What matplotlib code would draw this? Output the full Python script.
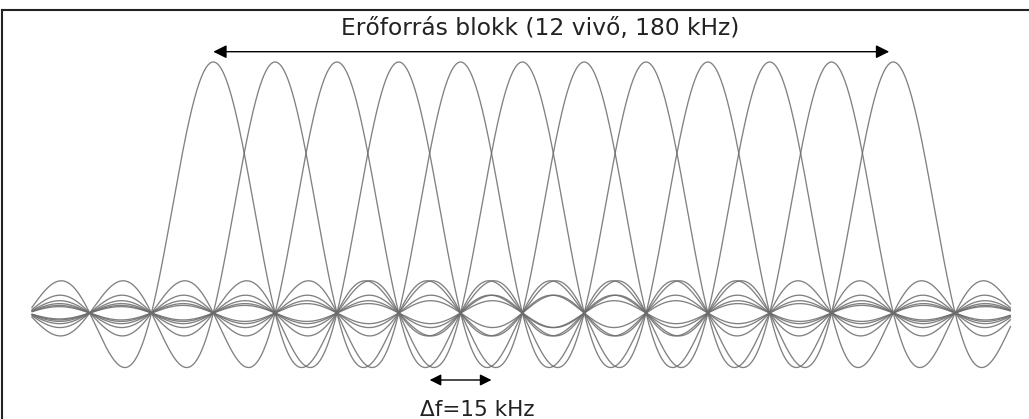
import numpy as np
import matplotlib
matplotlib.use("Agg")
import matplotlib.pyplot as plt
from matplotlib.lines import Line2D

# ---- data ----
carrier_centers_khz = [0, 15, 30, 45, 60, 75, 90, 105, 120, 135, 150, 165]
carrier_amplitudes = [1, 1, 1, 1, 1, 1, 1, 1, 1, 1, 1, 1]
subcarrier_spacing_khz = 15
freq_range_khz = [-44.1, 193.5]
block_label = "Erőforrás blokk (12 vivő, 180 kHz)"
spacing_label = "Δf=15 kHz"

W, H = 1029, 419
fig = plt.figure(figsize=(W / 100, H / 100), dpi=100)
ax = fig.add_axes([0, 0, 1, 1])

# pixel <-> data mapping
px_per_khz = 61.82 / subcarrier_spacing_khz
x0_px = 213.3
base_px, peak_px = 313.0, 62.0
amp_px = base_px - peak_px

def u(px):
    return (px - x0_px) / px_per_khz

def v(py):
    return (base_px - py) / amp_px

ax.set_xlim(u(0), u(W))
ax.set_ylim(v(H), v(0))
ax.axis("off")

f = np.linspace(freq_range_khz[0], freq_range_khz[1], 4000)
for c, a in zip(carrier_centers_khz, carrier_amplitudes):
    ax.plot(f, a * np.sinc((f - c) / subcarrier_spacing_khz),
            color="0.42", lw=0.95, alpha=0.85, solid_capstyle="butt")

# block arrow
ax.annotate("", xy=(carrier_centers_khz[-1] - 1, v(51.7)),
            xytext=(carrier_centers_khz[0], v(51.7)),
            arrowprops=dict(arrowstyle="<|-|>", color="black", lw=1.0,
                            mutation_scale=20, shrinkA=0, shrinkB=0))
ax.text(u(540), v(35), block_label, ha="center", va="baseline",
        fontsize=16.8, family="DejaVu Sans", color="#222222")

# spacing arrow
mid = carrier_centers_khz[4]
ax.annotate("", xy=(mid + subcarrier_spacing_khz / 2, v(380)),
            xytext=(mid - subcarrier_spacing_khz / 2, v(380)),
            arrowprops=dict(arrowstyle="<|-|>", color="black", lw=1.0,
                            mutation_scale=17, shrinkA=0, shrinkB=0))
ax.text(u(477.5), v(416), spacing_label, ha="center", va="baseline",
        fontsize=15.5, family="DejaVu Sans", color="#222222")

# frame (top and left edges visible)
fig.add_artist(Line2D([2 / W, 2 / W], [0, 1 - 10 / H], transform=fig.transFigure,
                      color="#222222", lw=1.5))
fig.add_artist(Line2D([2 / W, 1], [1 - 10 / H, 1 - 10 / H], transform=fig.transFigure,
                      color="#222222", lw=1.5))

fig.savefig("out.png", dpi=100)
